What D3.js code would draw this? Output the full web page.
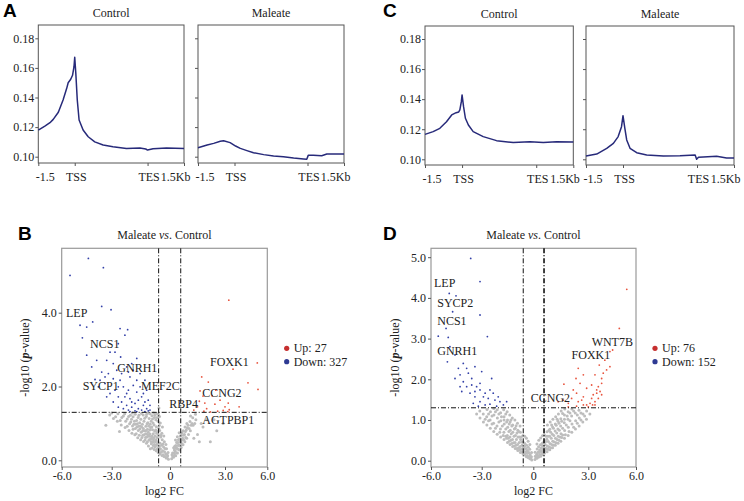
<!DOCTYPE html>
<html>
<head>
<meta charset="utf-8">
<script src="https://cdn.jsdelivr.net/npm/d3@7"></script>
<style>
  body { margin: 0; background: #fff; }
  svg { display: block; }
</style>
</head>
<body>
<svg id="fig" width="744" height="501"></svg>
<script>
// ---- profile plots (A, C): bins 0..400, TSS = 100, TES = 300
const profileXTicks = [0, 100, 300, 400];
const profileXLabels = ["-1.5", "TSS", "TES", "1.5Kb"];
const profileYTicks = [0.10, 0.12, 0.14, 0.16, 0.18];

const aControl = [[0,0.118],[18,0.1207],[32,0.123],[41,0.1252],[55,0.130],[68,0.1383],[78,0.1462],[82,0.150],[89,0.1523],[94,0.155],[98,0.1608],[100,0.1672],[103,0.1563],[107,0.1383],[112,0.1248],[123,0.118],[137,0.1135],[155,0.110],[178,0.1079],[205,0.1068],[242,0.1056],[279,0.1058],[295,0.1052],[300,0.1045],[315,0.1054],[352,0.1058],[400,0.1056]];
const aMaleate = [[0,0.1061],[25,0.1079],[43,0.109],[61,0.1104],[70,0.1108],[88,0.1095],[103,0.1072],[116,0.1056],[134,0.1041],[152,0.1027],[180,0.1014],[207,0.1005],[234,0.100],[262,0.0991],[289,0.0984],[298,0.0982],[302,0.1009],[316,0.1009],[339,0.1007],[353,0.1018],[371,0.1018],[400,0.1018]];
const cControl = [[0,0.1166],[22,0.1184],[40,0.1206],[58,0.125],[72,0.1295],[84,0.131],[91,0.1315],[94,0.1328],[98,0.1383],[100,0.1428],[104,0.135],[109,0.1273],[117,0.1228],[130,0.1184],[157,0.1151],[193,0.1124],[238,0.1111],[283,0.1117],[319,0.1111],[355,0.1117],[400,0.1115]];
const cMaleate = [[0,0.1022],[29,0.1035],[56,0.1073],[74,0.1106],[87,0.1151],[96,0.1217],[100,0.129],[105,0.1206],[110,0.1129],[119,0.1073],[137,0.1044],[164,0.1029],[209,0.1022],[254,0.1024],[295,0.1029],[299,0.100],[304,0.1013],[317,0.1016],[353,0.102],[380,0.1009],[400,0.1009]];

// ---- volcano plots (B, D): [log2 FC, -log10 p]
const volcanoXTicks = [-6, -3, 0, 3, 6];
const volcanoXLabels = ["-6.0", "-3.0", "0", "3.0", "6.0"];
const bYTicks = [0, 2, 4];
const dYTicks = [0, 1, 2, 3, 4, 5];
const fcCut = 0.585, pCut = 1.3;

const bCounts = { up: 27, down: 327 };
const dCounts = { up: 76, down: 152 };

const bDown = [[-5.5,5.01],[-4.4,5.47],[-3.5,5.22],[-3.6,4.17],[-3.04,4.08],[-4.14,3.75],[-4.9,3.66],[-4.5,3.61],[-4.76,3.32],[-2.57,3.57],[-2.18,3.54],[-2.32,3.39],[-2.66,3.16],[-4.5,2.85],[-4.2,2.53],[-3.9,2.71],[-3.1,2.93],[-3.3,2.71],[-2.92,2.62],[-3.6,2.39],[-4.0,2.19],[-2.54,2.8],[-2.83,2.93],[-1.71,2.76],[-1.97,2.62],[-2.23,2.53],[-3.2,2.35],[-2.92,2.21],[-3.4,2.08],[-2.57,2.17],[-2.06,2.26],[-1.54,2.35],[-1.29,2.17],[-2.4,1.99],[-1.89,2.03],[-2.83,1.9],[-3.1,1.81],[-2.23,1.81],[-1.71,1.85],[-1.2,1.9],[-2.66,1.72],[-2.06,1.67],[-1.46,1.72],[-1.12,1.63],[-2.49,1.58],[-1.8,1.54],[-2.23,1.49],[-1.37,1.49],[-1.97,1.44],[-1.63,1.4],[-1.2,1.4],[-2.14,1.36],[-1.8,1.34],[-1.46,1.36],[-1.12,1.34],[-2.4,1.4],[-2.66,1.44],[-2.92,1.58],[-3.3,1.72],[-3.8,1.99],[-3.7,2.17],[-3.4,2.26],[-2.74,2.44],[-2.49,2.35],[-1.89,2.44],[-2.14,2.39],[-1.37,1.81],[-1.63,1.63],[-1.97,1.58],[-1.29,1.58],[-1.03,1.49],[-2.06,1.32],[-1.71,1.32],[-1.29,1.32],[-1.03,1.36],[-2.32,1.72],[-2.14,1.9],[-2.66,1.99],[-1.54,1.99],[-1.71,2.17]];
const bUp = [[3.27,4.34],[5.29,2.64],[3.57,2.47],[4.63,2.1],[5.34,1.92],[1.73,2.26],[2.09,2.12],[1.64,1.88],[1.8,1.74],[3.23,1.55],[2.73,1.63],[2.45,1.52],[3.3,1.37],[1.5,1.45],[2.9,1.35],[1.85,1.33],[2.2,1.31],[1.3,1.36],[2.0,1.4],[2.6,1.33],[3.2,1.32],[1.6,1.6],[2.3,1.75],[3.0,1.45],[2.5,1.9],[1.9,1.55],[4.0,1.45]];
const bGray = [[-0.08,0.03],[-0.12,0.12],[-0.1,0.21],[-0.2,0.06],[-0.22,0.18],[-0.18,0.31],[-0.21,0.43],[-0.31,0.1],[-0.28,0.23],[-0.33,0.36],[-0.29,0.5],[-0.32,0.66],[-0.41,0.13],[-0.38,0.26],[-0.43,0.41],[-0.4,0.56],[-0.42,0.73],[-0.39,0.9],[-0.52,0.17],[-0.49,0.31],[-0.51,0.46],[-0.48,0.63],[-0.53,0.81],[-0.5,1.01],[-0.54,1.19],[-0.61,0.21],[-0.59,0.34],[-0.63,0.5],[-0.6,0.69],[-0.58,0.86],[-0.62,1.06],[-0.6,1.24],[-0.57,1.42],[-0.71,0.26],[-0.69,0.41],[-0.72,0.56],[-0.68,0.73],[-0.7,0.91],[-0.73,1.1],[-0.69,1.27],[-0.81,0.29],[-0.79,0.43],[-0.83,0.61],[-0.78,0.79],[-0.82,0.96],[-0.8,1.16],[-0.91,0.33],[-0.88,0.49],[-0.92,0.66],[-0.9,0.83],[-0.87,1.01],[-0.93,1.21],[-1.01,0.31],[-0.98,0.51],[-1.03,0.71],[-1.0,0.89],[-0.97,1.06],[-1.02,1.26],[-1.11,0.39],[-1.08,0.56],[-1.12,0.76],[-1.1,0.93],[-1.07,1.13],[-1.13,1.28],[-1.21,0.46],[-1.19,0.63],[-1.23,0.81],[-1.18,0.99],[-1.22,1.19],[-1.36,0.51],[-1.33,0.69],[-1.37,0.86],[-1.34,1.06],[-1.38,1.23],[-1.51,0.56],[-1.48,0.76],[-1.53,0.93],[-1.5,1.11],[-1.47,1.27],[-1.66,0.61],[-1.63,0.81],[-1.68,0.99],[-1.64,1.16],[-1.81,0.69],[-1.78,0.86],[-1.83,1.06],[-1.79,1.25],[-1.96,0.73],[-1.93,0.93],[-1.98,1.11],[-1.94,1.28],[-2.11,0.81],[-2.08,0.99],[-2.13,1.19],[-2.31,0.89],[-2.28,1.06],[-2.33,1.26],[-2.51,0.96],[-2.48,1.16],[-2.71,1.06],[-2.68,1.26],[-2.91,1.13],[-3.12,1.23],[-3.35,0.95],[-2.6,0.78],[-0.45,0.22],[-0.55,0.38],[-0.65,0.44],[-0.75,0.5],[-0.85,0.55],[-0.95,0.6],[-1.05,0.65],[-1.15,0.7],[-1.25,0.72],[-1.4,0.8],[-1.55,0.85],[-1.7,0.9],[-0.35,0.15],[-0.25,0.1],[-0.15,0.07],[-0.66,0.3],[-0.76,0.36],[-0.86,0.4],[-0.96,0.45],[-1.16,0.5],[-1.28,0.55],
  [-0.56,0.27],[-0.66,0.62],[-0.74,0.82],[-0.86,0.72],[-0.94,0.9],[-1.04,0.82],[-1.14,1.02],[-1.24,0.92],[-1.3,1.14],[-1.42,0.98],[-1.56,1.02],[-1.6,1.22],[-1.72,1.08],[-1.86,0.98],[-2.02,1.04],[-2.2,1.12],[-2.4,1.2],[-2.2,0.92],[-1.9,0.84],[-1.74,0.72],[-1.58,0.68],[-1.44,0.62],[-1.3,0.8],[-1.16,0.84],[-1.02,0.98],[-0.9,1.12],[-0.78,1.22],[-0.66,1.16],[-0.55,0.94],[-0.46,0.68],[-0.36,0.44],[-0.26,0.32],[-0.16,0.16],[-0.64,0.78],[-0.76,0.66],[-0.88,0.6],[-1.0,0.58],[-1.12,0.66],[-1.26,0.62],[-1.4,0.68],[-1.46,0.9],[-1.62,0.92],[-1.76,0.98],[-1.9,1.18],[-2.04,1.22],[-2.56,1.08],[-2.8,1.18],[-3.0,1.28],[-0.84,1.28],[-1.2,1.25],
  [0.09,0.04],[0.11,0.15],[0.19,0.08],[0.21,0.2],[0.2,0.34],[0.31,0.12],[0.29,0.25],[0.32,0.4],[0.3,0.55],[0.41,0.2],[0.39,0.32],[0.42,0.48],[0.4,0.64],[0.51,0.28],[0.49,0.42],[0.52,0.58],[0.5,0.75],[0.61,0.35],[0.59,0.5],[0.62,0.68],[0.71,0.42],[0.69,0.6],[0.72,0.8],[0.81,0.5],[0.79,0.7],[0.82,0.9],[0.91,0.6],[0.89,0.82],[0.92,1.0],[1.01,0.7],[0.99,0.95],[1.11,0.8],[1.09,1.05],[1.12,1.2],[1.26,0.95],[1.24,1.15],[1.41,1.1],[1.39,1.25],[1.5,0.7],[1.8,0.9],[2.2,0.5],[2.55,0.8],[2.0,1.1],[1.6,0.5],[2.9,1.0],[1.3,0.6],[0.45,0.3],[0.55,0.4],[0.65,0.45],[0.35,0.2],[0.25,0.14],[0.15,0.1],
  [0.14,0.2],[0.24,0.28],[0.34,0.33],[0.44,0.4],[0.54,0.5],[0.64,0.55],[0.74,0.68],[0.84,0.78],[0.94,0.88],[1.04,0.86],[1.16,0.95],[0.36,0.48],[0.46,0.56],[0.56,0.66],[0.66,0.75],[0.26,0.38],[0.76,0.55],[0.86,0.62],[1.2,1.0],[1.35,1.0],[1.7,1.0],[2.4,1.1]];

const dDown = [[-3.65,4.97],[-3.1,4.4],[-4.92,4.11],[-4.52,4.05],[-4.72,3.66],[-3.1,3.58],[-5.11,3.25],[-5.57,3.06],[-4.98,3.03],[-2.67,3.05],[-4.88,2.8],[-4.58,2.6],[-5.03,2.43],[-4.38,2.27],[-4.09,2.39],[-3.4,2.31],[-4.28,2.11],[-4.58,2.02],[-3.79,2.15],[-2.42,2.02],[-4.09,1.94],[-3.59,1.86],[-3.1,1.9],[-3.1,1.74],[-2.8,1.66],[-3.89,1.82],[-3.69,1.66],[-3.4,1.57],[-2.62,1.53],[-2.23,1.49],[-1.94,1.45],[-3.1,1.45],[-3.5,1.41],[-2.52,1.39],[-2.8,1.37],[-3.2,1.34],[-1.74,1.37],[-2.13,1.34],[-1.55,1.45],[-3.3,1.82],[-3.0,2.19],[-2.52,1.74],[-2.33,1.66],[-3.59,2.02],[-3.89,2.27],[-2.9,1.57],[-2.04,1.57],[-4.28,1.82],[-4.18,1.7],[-3.4,1.7]];
const dUp = [[5.42,4.21],[4.95,3.25],[4.36,2.68],[4.53,2.72],[4.04,2.47],[3.69,2.35],[4.36,2.31],[2.45,2.27],[3.94,2.15],[3.42,2.11],[2.73,2.11],[2.33,2.02],[3.84,1.9],[3.21,1.86],[2.55,1.9],[1.67,1.88],[3.63,1.82],[2.91,1.78],[3.74,1.7],[3.53,1.66],[3.31,1.62],[3.84,1.62],[2.18,1.74],[2.36,1.66],[2.73,1.57],[3.21,1.53],[3.63,1.53],[3.42,1.45],[3.11,1.41],[2.91,1.37],[3.27,1.37],[1.64,1.49],[1.91,1.41],[2.45,1.45],[2.73,1.37],[2.36,1.34],[1.91,1.32],[1.36,1.45],[3.53,1.74],[3.84,2.02],[4.15,2.23],[3.42,1.37],[3.0,1.32],[2.64,1.49],[2.09,1.53]];
const dGray = [[-0.09,0.02],[-0.11,0.1],[-0.1,0.2],[-0.2,0.05],[-0.19,0.15],[-0.21,0.28],[-0.2,0.4],[-0.3,0.08],[-0.31,0.2],[-0.29,0.33],[-0.3,0.48],[-0.4,0.1],[-0.41,0.22],[-0.39,0.38],[-0.4,0.55],[-0.5,0.14],[-0.51,0.28],[-0.49,0.42],[-0.5,0.6],[-0.6,0.17],[-0.61,0.3],[-0.59,0.46],[-0.6,0.62],[-0.75,0.2],[-0.76,0.35],[-0.74,0.52],[-0.75,0.7],[-0.77,0.85],[-0.9,0.25],[-0.91,0.4],[-0.89,0.58],[-0.9,0.75],[-0.92,0.92],[-1.05,0.3],[-1.06,0.45],[-1.04,0.62],[-1.05,0.8],[-1.07,1.0],[-1.2,0.35],[-1.21,0.52],[-1.19,0.7],[-1.2,0.88],[-1.22,1.05],[-1.35,0.4],[-1.36,0.58],[-1.34,0.75],[-1.35,0.95],[-1.37,1.12],[-1.5,0.45],[-1.51,0.62],[-1.49,0.82],[-1.5,1.0],[-1.52,1.2],[-1.7,0.52],[-1.71,0.7],[-1.69,0.9],[-1.7,1.08],[-1.72,1.25],[-1.9,0.58],[-1.91,0.78],[-1.89,0.98],[-1.9,1.18],[-2.1,0.65],[-2.11,0.85],[-2.09,1.05],[-2.1,1.25],[-2.3,0.72],[-2.31,0.92],[-2.29,1.12],[-2.3,1.28],[-2.5,0.8],[-2.51,1.0],[-2.49,1.2],[-2.7,0.88],[-2.71,1.08],[-2.69,1.26],[-2.9,0.95],[-2.91,1.15],[-3.1,1.05],[-3.11,1.22],[-3.3,1.15],[-0.65,0.38],[-0.82,0.45],[-0.98,0.52],[-1.12,0.6],[-1.28,0.66],[-1.42,0.72],[-1.6,0.78],[-1.8,0.85],[-2.0,0.95],[-0.7,0.28],[-0.85,0.32],[-1.0,0.38],[-1.15,0.44],[-1.3,0.5],[-1.45,0.55],[-1.6,0.6],[-0.55,0.22],[-0.45,0.18],[-0.35,0.13],[-0.25,0.1],[-0.15,0.06],
  [-0.56,0.34],[-0.68,0.46],[-0.8,0.58],[-0.95,0.68],[-1.1,0.78],[-1.25,0.85],[-1.4,0.9],[-1.55,0.95],[-1.7,1.0],[-1.85,1.08],[-2.0,1.15],[-2.2,1.2],[-2.4,1.1],[-2.6,1.15],[-2.2,0.8],[-2.4,0.9],[-2.6,0.98],[-2.8,1.02],[-1.95,0.7],[-1.75,0.62],[-1.55,0.55],[-1.4,0.48],[-1.25,0.42],[-1.1,0.36],[-0.95,0.3],[-0.8,0.26],[-0.65,0.22],[-0.5,0.36],[-0.42,0.3],[-0.34,0.25],[-0.26,0.2],[-0.18,0.11],[-1.6,1.15],[-1.3,1.0],[-1.0,0.86],[-0.85,0.72],[-0.7,0.58],
  [0.09,0.03],[0.11,0.11],[0.1,0.21],[0.2,0.06],[0.19,0.16],[0.21,0.29],[0.2,0.41],[0.3,0.09],[0.31,0.21],[0.29,0.34],[0.3,0.5],[0.4,0.11],[0.41,0.24],[0.39,0.39],[0.4,0.56],[0.5,0.15],[0.51,0.29],[0.49,0.43],[0.5,0.61],[0.6,0.18],[0.61,0.31],[0.59,0.47],[0.6,0.64],[0.75,0.22],[0.76,0.36],[0.74,0.53],[0.75,0.71],[0.77,0.88],[0.9,0.27],[0.91,0.42],[0.89,0.6],[0.9,0.77],[0.92,0.95],[1.05,0.32],[1.06,0.48],[1.04,0.65],[1.05,0.83],[1.07,1.02],[1.2,0.38],[1.21,0.55],[1.19,0.73],[1.2,0.9],[1.22,1.08],[1.35,0.43],[1.36,0.6],[1.34,0.78],[1.35,0.97],[1.37,1.15],[1.5,0.48],[1.51,0.66],[1.49,0.85],[1.5,1.03],[1.52,1.22],[1.7,0.55],[1.71,0.74],[1.69,0.93],[1.7,1.12],[1.72,1.27],[1.9,0.62],[1.91,0.82],[1.89,1.02],[1.9,1.2],[2.1,0.7],[2.11,0.9],[2.09,1.1],[2.1,1.27],[2.3,0.78],[2.31,0.98],[2.29,1.17],[2.5,0.85],[2.51,1.05],[2.49,1.24],[2.7,0.95],[2.71,1.15],[2.9,1.02],[2.91,1.22],[3.1,1.15],[0.65,0.4],[0.82,0.47],[0.98,0.55],[1.12,0.62],[1.28,0.68],[1.42,0.75],[1.6,0.8],[1.8,0.88],[2.0,0.98],[0.7,0.3],[0.85,0.34],[1.0,0.4],[1.15,0.46],[1.3,0.52],[1.45,0.58],[1.6,0.63],[0.55,0.24],[0.45,0.2],[0.35,0.15],[0.25,0.11],[0.15,0.07],
  [0.56,0.35],[0.68,0.47],[0.8,0.6],[0.95,0.7],[1.1,0.8],[1.25,0.87],[1.4,0.92],[1.55,0.97],[1.7,1.02],[1.85,1.1],[2.0,1.17],[2.2,1.22],[2.4,1.12],[2.6,1.17],[2.2,0.82],[2.4,0.92],[2.6,1.0],[2.8,1.1],[1.95,0.72],[1.75,0.64],[1.55,0.57],[1.4,0.5],[1.25,0.44],[1.1,0.38],[0.95,0.32],[0.8,0.28],[0.65,0.24],[0.5,0.37],[0.42,0.31],[0.34,0.26],[0.26,0.21],[0.18,0.12],[1.6,1.16],[1.3,1.02],[1.0,0.88],[0.85,0.74],[0.7,0.6]];

// gene labels: text start (log2 FC) and baseline (-log10 p)
const bGenes = [["LEP",-5.74,3.88],["NCS1",-4.3,3.04],["GNRH1",-2.71,2.39],["SYCP1",-4.74,1.9],["MEF2C",-1.49,1.9],["RBP4",-0.04,1.43],["FOXK1",2.18,2.55],["CCNG2",1.76,1.72],["AGTPBP1",1.76,0.98]];
const dGenes = [["LEP",-5.82,4.28],["SYCP2",-5.63,3.78],["NCS1",-5.63,3.33],["GNRH1",-5.63,2.6],["WNT7B",3.21,2.83],["FOXK1",2.09,2.5],["CCNG2",-0.15,1.45]];

const FONT = '"Liberation Serif", "Times New Roman", serif';
const textColor = "#222";
const lineColor = "#272a7a";
const upColor = "#e8553f", downColor = "#3340a8", grayColor = "#bdbdbd";
const legendUp = "#c62f2f", legendDown = "#2e3a93";

const svg = d3.select("#fig").attr("font-family", FONT).attr("font-size", 12);

function letter(x, y, t) {
  svg.append("text")
    .attr("x", x).attr("y", y)
    .attr("font-family", '"Liberation Sans", Arial, sans-serif')
    .attr("font-weight", "bold").attr("font-size", 19)
    .text(t);
}

// d3 axes put their own font on the group; put ours back
function styleAxis(a) {
  a.attr("font-family", FONT).attr("font-size", 12);
  a.select(".domain").remove();
  a.selectAll("line").attr("stroke", "#555");
  a.selectAll("text").attr("fill", textColor);
}

function profilePanel(p) {
  const x = d3.scaleLinear().domain([0, 400]).range([p.x0, p.x1]);
  const y = d3.scaleLinear().domain([0.10, 0.18]).range([p.y10, p.y18]);
  const g = svg.append("g");

  g.append("rect")
    .attr("x", p.x0).attr("y", p.top)
    .attr("width", p.x1 - p.x0).attr("height", p.bottom - p.top)
    .attr("fill", "none").attr("stroke", "#555").attr("stroke-width", 1);

  g.append("g")
    .attr("transform", `translate(${p.x0},0)`)
    .call(d3.axisLeft(y).tickValues(profileYTicks).tickSize(3).tickPadding(1)
      .tickFormat(p.labels ? d3.format(".2f") : ""))
    .call(styleAxis);

  g.append("g")
    .attr("transform", `translate(0,${p.bottom})`)
    .call(d3.axisBottom(x).tickValues(profileXTicks).tickSize(3).tickPadding(6)
      .tickFormat((d, i) => profileXLabels[i]))
    .call(styleAxis)
    .call(a => a.selectAll("text")
      .attr("text-anchor", (d, i) => i === 0 ? "start" : i === 3 ? "end" : "middle")
      .attr("dx", (d, i) => i === 0 ? -3 : i === 3 ? 6 : 1));

  g.append("path")
    .datum(p.series)
    .attr("fill", "none")
    .attr("stroke", lineColor)
    .attr("stroke-width", 1.5)
    .attr("stroke-linejoin", "round")
    .attr("d", d3.line().x(d => x(d[0])).y(d => y(d[1])));

  g.append("text")
    .attr("x", (p.x0 + p.x1) / 2).attr("y", p.top - 8)
    .attr("text-anchor", "middle").attr("fill", textColor)
    .text(p.title);
}

function volcanoPanel(p) {
  const x = d3.scaleLinear().domain(volcanoXTicks).range(p.xr);
  const y = d3.scaleLinear().domain([0, 1]).range([p.y0, p.y0 - p.unit]);
  const g = svg.append("g");

  g.append("rect")
    .attr("x", p.xr[0]).attr("y", p.top)
    .attr("width", p.xr[4] - p.xr[0]).attr("height", p.bottom - p.top)
    .attr("fill", "none").attr("stroke", "#999").attr("stroke-width", 1.2);

  const dots = (data, color, r) => g.append("g").selectAll("circle")
    .data(data).join("circle")
    .attr("cx", d => x(d[0])).attr("cy", d => y(d[1]))
    .attr("r", r).attr("fill", color);
  dots(p.gray, grayColor, 1.5);
  dots(p.down, downColor, 0.9);
  dots(p.up, upColor, 0.9);

  const dash = "5,2,1,2";
  [-fcCut, fcCut].forEach((v, i) => g.append("line")
    .attr("x1", x(v)).attr("x2", x(v)).attr("y1", p.top).attr("y2", p.bottom)
    .attr("stroke", "#111").attr("stroke-width", i === 1 ? p.rightLineWidth : 1)
    .attr("stroke-dasharray", dash));
  g.append("line")
    .attr("x1", p.xr[0]).attr("x2", p.xr[4]).attr("y1", y(pCut)).attr("y2", y(pCut))
    .attr("stroke", "#111").attr("stroke-width", 1).attr("stroke-dasharray", dash);

  g.append("g")
    .attr("transform", `translate(${p.xr[0]},0)`)
    .call(d3.axisLeft(y).tickValues(p.yTicks).tickSize(3).tickPadding(2).tickFormat(d3.format(".1f")))
    .call(styleAxis);

  g.append("g")
    .attr("transform", `translate(0,${p.bottom})`)
    .call(d3.axisBottom(x).tickValues(volcanoXTicks).tickSize(3).tickPadding(1)
      .tickFormat((d, i) => volcanoXLabels[i]))
    .call(styleAxis);

  g.append("g").selectAll("text")
    .data(p.genes).join("text")
    .attr("x", d => x(d[1])).attr("y", d => y(d[2]))
    .attr("fill", textColor)
    .text(d => d[0]);

  const title = g.append("text")
    .attr("x", (p.xr[0] + p.xr[4]) / 2).attr("y", p.top - 9)
    .attr("text-anchor", "middle").attr("fill", textColor);
  title.append("tspan").text("Maleate ");
  title.append("tspan").attr("font-style", "italic").text("vs");
  title.append("tspan").text(". Control");

  g.append("text")
    .attr("x", (p.xr[0] + p.xr[4]) / 2).attr("y", p.bottom + 28)
    .attr("text-anchor", "middle").attr("fill", textColor)
    .text("log2 FC");

  const yl = g.append("text")
    .attr("transform", `translate(${p.ylabX},${(p.top + p.bottom) / 2}) rotate(-90)`)
    .attr("text-anchor", "middle").attr("fill", textColor);
  yl.append("tspan").text("-log10 (");
  yl.append("tspan").attr("font-style", "italic").attr("font-weight", "bold").text("p");
  yl.append("tspan").text("-value)");

  const leg = g.append("g").attr("transform", `translate(${p.legX},${p.legY})`);
  [[`Up: ${p.counts.up}`, legendUp], [`Down: ${p.counts.down}`, legendDown]].forEach((d, i) => {
    leg.append("circle").attr("cx", 0).attr("cy", i * 13.4).attr("r", 2.6).attr("fill", d[1]);
    leg.append("text").attr("x", 7).attr("y", i * 13.4 + 4).attr("fill", textColor).text(d[0]);
  });
}

// A
letter(3, 17, "A");
profilePanel({ x0: 38.3, x1: 184, top: 25, bottom: 163, y10: 156.7, y18: 38.3, series: aControl, title: "Control", labels: true });
profilePanel({ x0: 198, x1: 344, top: 25, bottom: 163, y10: 156.7, y18: 38.3, series: aMaleate, title: "Maleate", labels: false });

// C
letter(383, 17, "C");
profilePanel({ x0: 425, x1: 573.3, top: 26, bottom: 165, y10: 159.3, y18: 39, series: cControl, title: "Control", labels: true });
profilePanel({ x0: 586, x1: 734, top: 26, bottom: 165, y10: 159.3, y18: 39, series: cMaleate, title: "Maleate", labels: false });

// B
letter(18, 240, "B");
volcanoPanel({ xr: [61.7, 111.7, 170, 225, 267.3], y0: 460.3, unit: 36.9, top: 248.3, bottom: 467,
  yTicks: bYTicks, gray: bGray, down: bDown, up: bUp, genes: bGenes, counts: bCounts,
  ylabX: 29, legX: 286.7, legY: 348.3, rightLineWidth: 1 });

// D
letter(383, 240, "D");
volcanoPanel({ xr: [431, 481.7, 533.3, 588.3, 636], y0: 460.7, unit: 40.7, top: 248.3, bottom: 467,
  yTicks: dYTicks, gray: dGray, down: dDown, up: dUp, genes: dGenes, counts: dCounts,
  ylabX: 399, legX: 655, legY: 348.3, rightLineWidth: 1.6 });
</script>
</body>
</html>
